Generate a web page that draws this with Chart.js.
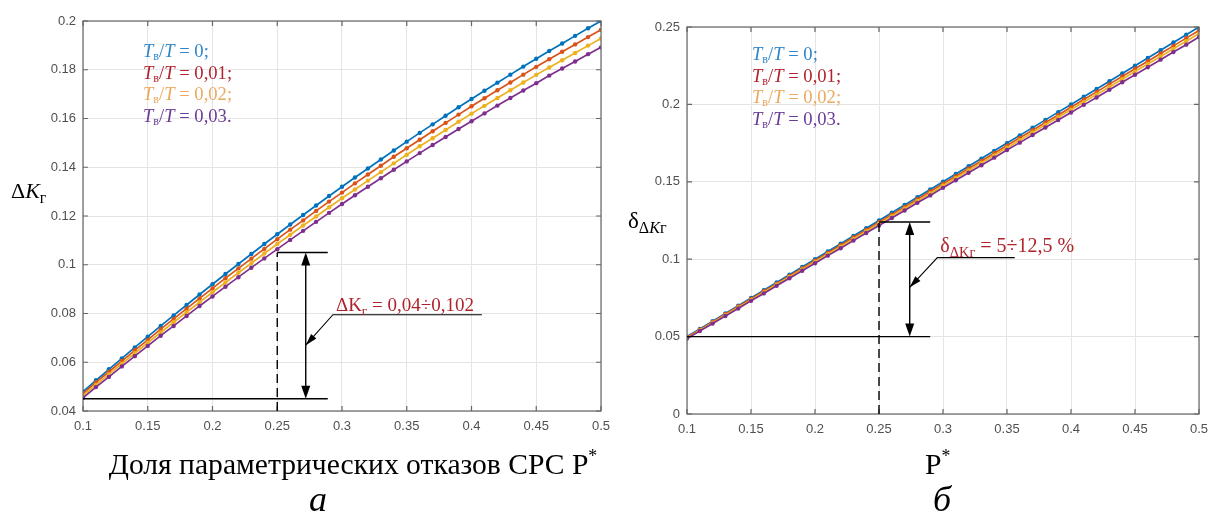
<!DOCTYPE html>
<html>
<head>
<meta charset="utf-8">
<script src="https://cdn.jsdelivr.net/npm/chart.js@4.4.0/dist/chart.umd.min.js"></script>
<style>
    html, body { margin: 0; padding: 0; background: #fff; }
    #wrap { position: relative; width: 1214px; height: 519px; }
    canvas { position: absolute; top: 0; }
</style>
</head>
<body>
<div id="wrap">
    <canvas id="chartA" width="630" height="519" style="left:0"></canvas>
    <canvas id="chartB" width="607" height="519" style="left:607px"></canvas>
</div>
<script>
// P* values (share of parametric failures)
const pValues = [0.10, 0.11, 0.12, 0.13, 0.14, 0.15, 0.16, 0.17, 0.18, 0.19,
    0.20, 0.21, 0.22, 0.23, 0.24, 0.25, 0.26, 0.27, 0.28, 0.29,
    0.30, 0.31, 0.32, 0.33, 0.34, 0.35, 0.36, 0.37, 0.38, 0.39,
    0.40, 0.41, 0.42, 0.43, 0.44, 0.45, 0.46, 0.47, 0.48, 0.49, 0.50];

const xTicks = [0.1, 0.15, 0.2, 0.25, 0.3, 0.35, 0.4, 0.45, 0.5];
const yTicksA = [0.04, 0.06, 0.08, 0.1, 0.12, 0.14, 0.16, 0.18, 0.2];
const yTicksB = [0, 0.05, 0.1, 0.15, 0.2, 0.25];
const ratioLabels = ['0;', '0,01;', '0,02;', '0,03.'];

// chart a: ΔKг for Tв/T = 0, 0.01, 0.02, 0.03
const dK0 = [0.0480, 0.0526, 0.0571, 0.0616, 0.0661, 0.0705, 0.0749, 0.0792, 0.0835, 0.0878,
    0.0920, 0.0962, 0.1003, 0.1044, 0.1085, 0.1125, 0.1165, 0.1204, 0.1243, 0.1282,
    0.1320, 0.1358, 0.1395, 0.1432, 0.1469, 0.1505, 0.1541, 0.1576, 0.1611, 0.1646,
    0.1680, 0.1714, 0.1747, 0.1780, 0.1813, 0.1845, 0.1877, 0.1908, 0.1939, 0.1970, 0.2000];
const dK1 = [0.0471, 0.0517, 0.0561, 0.0605, 0.0649, 0.0692, 0.0736, 0.0778, 0.0820, 0.0862,
    0.0903, 0.0945, 0.0985, 0.1025, 0.1065, 0.1105, 0.1144, 0.1182, 0.1221, 0.1259,
    0.1296, 0.1334, 0.1370, 0.1406, 0.1443, 0.1478, 0.1513, 0.1548, 0.1582, 0.1616,
    0.1650, 0.1683, 0.1716, 0.1748, 0.1780, 0.1812, 0.1843, 0.1874, 0.1904, 0.1934, 0.1964];
const dK2 = [0.0463, 0.0507, 0.0550, 0.0594, 0.0637, 0.0680, 0.0722, 0.0764, 0.0805, 0.0846,
    0.0887, 0.0927, 0.0967, 0.1006, 0.1046, 0.1085, 0.1123, 0.1161, 0.1198, 0.1236,
    0.1273, 0.1309, 0.1345, 0.1380, 0.1416, 0.1451, 0.1486, 0.1519, 0.1553, 0.1587,
    0.1620, 0.1652, 0.1684, 0.1716, 0.1748, 0.1779, 0.1809, 0.1839, 0.1869, 0.1899, 0.1928];
const dK3 = [0.0454, 0.0498, 0.0540, 0.0583, 0.0625, 0.0667, 0.0709, 0.0749, 0.0790, 0.0831,
    0.0870, 0.0910, 0.0949, 0.0988, 0.1026, 0.1064, 0.1102, 0.1139, 0.1176, 0.1213,
    0.1249, 0.1285, 0.1320, 0.1355, 0.1390, 0.1424, 0.1458, 0.1491, 0.1524, 0.1557,
    0.1589, 0.1621, 0.1653, 0.1684, 0.1715, 0.1745, 0.1776, 0.1805, 0.1834, 0.1864, 0.1892];

// chart б: δΔKг for the same ratios
const rel0 = [0.050, 0.055, 0.060, 0.065, 0.070, 0.075, 0.080, 0.085, 0.090, 0.095,
    0.100, 0.105, 0.110, 0.115, 0.120, 0.125, 0.130, 0.135, 0.140, 0.145,
    0.150, 0.155, 0.160, 0.165, 0.170, 0.175, 0.180, 0.185, 0.190, 0.195,
    0.200, 0.205, 0.210, 0.215, 0.220, 0.225, 0.230, 0.235, 0.240, 0.245, 0.250];
const rel1 = [0.0496, 0.0545, 0.0595, 0.0644, 0.0694, 0.0743, 0.0793, 0.0842, 0.0892, 0.0941,
    0.0991, 0.1041, 0.1090, 0.1140, 0.1189, 0.1239, 0.1288, 0.1338, 0.1387, 0.1437,
    0.1487, 0.1536, 0.1586, 0.1635, 0.1685, 0.1734, 0.1784, 0.1833, 0.1883, 0.1932,
    0.1982, 0.2032, 0.2081, 0.2131, 0.2180, 0.2230, 0.2279, 0.2329, 0.2378, 0.2428, 0.2478];
const rel2 = [0.0492, 0.0541, 0.0590, 0.0639, 0.0688, 0.0737, 0.0786, 0.0836, 0.0885, 0.0934,
    0.0983, 0.1032, 0.1081, 0.1130, 0.1180, 0.1229, 0.1278, 0.1327, 0.1376, 0.1425,
    0.1475, 0.1524, 0.1573, 0.1622, 0.1671, 0.1720, 0.1769, 0.1819, 0.1868, 0.1917,
    0.1966, 0.2015, 0.2064, 0.2113, 0.2163, 0.2212, 0.2261, 0.2310, 0.2359, 0.2408, 0.2458];
const rel3 = [0.0487, 0.0536, 0.0584, 0.0633, 0.0682, 0.0731, 0.0779, 0.0828, 0.0877, 0.0925,
    0.0974, 0.1023, 0.1071, 0.1120, 0.1169, 0.1218, 0.1266, 0.1315, 0.1364, 0.1412,
    0.1461, 0.1510, 0.1558, 0.1607, 0.1656, 0.1705, 0.1753, 0.1802, 0.1851, 0.1899,
    0.1948, 0.1997, 0.2045, 0.2094, 0.2143, 0.2192, 0.2240, 0.2289, 0.2338, 0.2386, 0.2435];

// guide marks: [P*, lower level, upper level, end of shelves, arrow P]
const guideA = [0.25, 0.045, 0.105, 0.289, 0.272];
const guideB = [0.25, 0.05, 0.124, 0.29, 0.274];
// leader line points [P, value]
const leaderA = [[0.272, 0.067], [0.293, 0.0795], [0.408, 0.0795]];
const leaderB = [[0.274, 0.0818], [0.2956, 0.101], [0.356, 0.101]];

const lineColors = ['#0072BD', '#D95319', '#EDB120', '#7E2F8E'];
const textColors = ['#2f86c8', '#b3232f', '#eba95f', '#6a3a97'];
const serif = '"Liberation Serif", "Times New Roman", serif';
const sans = '"Liberation Sans", Arial, sans-serif';

function toPoints(vals) {
    return pValues.map((p, i) => ({ x: p, y: vals[i] }));
}

function makeDatasets(list) {
    return list.map((vals, i) => ({
        data: toPoints(vals),
        borderColor: lineColors[i],
        backgroundColor: lineColors[i],
        borderWidth: 1.7,
        pointRadius: 2.2,
        pointHoverRadius: 2.2,
        pointBorderWidth: 0,
        tension: 0,
        order: 3 - i
    }));
}

function makeScales(yTicks, yMin, yMax, yWidth) {
    const tickFont = { family: sans, size: 13 };
    return {
        x: {
            type: 'linear', min: 0.1, max: 0.5,
            afterBuildTicks: s => { s.ticks = xTicks.map(v => ({ value: v })); },
            afterFit: s => { s.height = 40; s.paddingLeft = 0; s.paddingRight = 0; },
            ticks: { font: tickFont, color: '#505050', padding: 8, maxRotation: 0, autoSkip: false, callback: v => String(v) },
            grid: { color: '#e4e4e4', drawTicks: false },
            border: { display: false }
        },
        y: {
            type: 'linear', min: yMin, max: yMax,
            afterBuildTicks: s => { s.ticks = yTicks.map(v => ({ value: v })); },
            afterFit: s => { s.width = yWidth; s.paddingTop = 0; s.paddingBottom = 0; },
            ticks: { font: tickFont, color: '#505050', padding: 7, autoSkip: false, callback: v => String(+v.toFixed(3)) },
            grid: { color: '#e4e4e4', drawTicks: false },
            border: { display: false }
        }
    };
}

// draws a run of text pieces: [text, style, dy, scale]
function drawRich(ctx, x, y, parts, size, color, family) {
    let cx = x;
    ctx.fillStyle = color;
    ctx.textBaseline = 'alphabetic';
    ctx.textAlign = 'left';
    parts.forEach(([txt, style, dy, k]) => {
        ctx.font = style + ' ' + (size * k).toFixed(1) + 'px ' + family;
        ctx.fillText(txt, cx, y + dy);
        cx += ctx.measureText(txt).width;
    });
    return cx;
}

function richWidth(ctx, parts, size, family) {
    let w = 0;
    parts.forEach(([txt, style, dy, k]) => {
        ctx.font = style + ' ' + (size * k).toFixed(1) + 'px ' + family;
        w += ctx.measureText(txt).width;
    });
    return w;
}

function arrowHead(ctx, x1, y1, x2, y2, len, half) {
    const a = Math.atan2(y2 - y1, x2 - x1);
    const bx = x2 - len * Math.cos(a), by = y2 - len * Math.sin(a);
    ctx.beginPath();
    ctx.moveTo(x2, y2);
    ctx.lineTo(bx + half * Math.sin(a), by - half * Math.cos(a));
    ctx.lineTo(bx - half * Math.sin(a), by + half * Math.cos(a));
    ctx.closePath();
    ctx.fill();
}

function drawFrame(chart, yTicks) {
    const { ctx, chartArea: a, scales: { x, y } } = chart;
    ctx.save();
    ctx.strokeStyle = '#666';
    ctx.lineWidth = 1.2;
    ctx.strokeRect(a.left, a.top, a.right - a.left, a.bottom - a.top);
    ctx.beginPath();
    xTicks.forEach(v => {
        const px = x.getPixelForValue(v);
        ctx.moveTo(px, a.bottom); ctx.lineTo(px, a.bottom - 5);
        ctx.moveTo(px, a.top); ctx.lineTo(px, a.top + 5);
    });
    yTicks.forEach(v => {
        const py = y.getPixelForValue(v);
        ctx.moveTo(a.left, py); ctx.lineTo(a.left + 5, py);
        ctx.moveTo(a.right, py); ctx.lineTo(a.right - 5, py);
    });
    ctx.stroke();
    ctx.restore();
}

function drawLegend(chart, left, top) {
    const ctx = chart.ctx;
    ratioLabels.forEach((lab, i) => {
        drawRich(ctx, left, top + i * 21.5, [
            ['T', 'italic', 0, 1], ['в', 'normal', 3, 0.65], ['/', 'normal', 0, 1],
            ['T', 'italic', 0, 1], [' = ' + lab, 'normal', 0, 1]
        ], 18.6, textColors[i], serif);
    });
}

function drawGuide(chart, g, leader, labelParts, labelSize, labelLift) {
    const { ctx, scales: { x, y } } = chart;
    const px = x.getPixelForValue(g[0]);
    const lo = y.getPixelForValue(g[1]);
    const hi = y.getPixelForValue(g[2]);
    const end = x.getPixelForValue(g[3]);
    const ax = x.getPixelForValue(g[4]);
    ctx.save();
    ctx.strokeStyle = '#000';
    ctx.fillStyle = '#000';
    ctx.lineWidth = 1.4;
    // dashed drop line
    ctx.setLineDash([9, 5]);
    ctx.beginPath();
    ctx.moveTo(px, y.getPixelForValue(y.min));
    ctx.lineTo(px, hi);
    ctx.stroke();
    ctx.setLineDash([]);
    // shelves
    ctx.beginPath();
    ctx.moveTo(px, hi); ctx.lineTo(end, hi);
    ctx.moveTo(x.getPixelForValue(x.min), lo); ctx.lineTo(end, lo);
    ctx.stroke();
    // double arrow
    ctx.beginPath();
    ctx.moveTo(ax, hi + 10); ctx.lineTo(ax, lo - 10);
    ctx.stroke();
    arrowHead(ctx, ax, lo, ax, hi, 13, 4.5);
    arrowHead(ctx, ax, hi, ax, lo, 13, 4.5);
    // leader
    const pts = leader.map(([p, v]) => [x.getPixelForValue(p), y.getPixelForValue(v)]);
    ctx.lineWidth = 1.1;
    ctx.beginPath();
    ctx.moveTo(pts[0][0], pts[0][1]);
    pts.slice(1).forEach(([qx, qy]) => ctx.lineTo(qx, qy));
    ctx.stroke();
    arrowHead(ctx, pts[1][0], pts[1][1], pts[0][0], pts[0][1], 12, 3.5);
    drawRich(ctx, pts[1][0] + 3, pts[1][1] - labelLift, labelParts, labelSize, '#b0222c', serif);
    ctx.restore();
}

const decorA = {
    id: 'decorA',
    afterDraw(chart) {
        const ctx = chart.ctx;
        drawFrame(chart, yTicksA);
        drawLegend(chart, 143, 57);
        drawGuide(chart, guideA, leaderA,
            [['ΔK', 'normal', 0, 1], ['г', 'normal', 4, 0.7], [' = 0,04÷0,102', 'normal', 0, 1]], 19, 4);
        // axis names
        drawRich(ctx, 11, 198, [['Δ', 'normal', 0, 1], ['K', 'italic', 0, 1], ['г', 'normal', 5, 0.72]], 22, '#000', serif);
        const title = [['Доля параметрических отказов СРС P', 'normal', 0, 1], ['*', 'normal', -12, 0.6]];
        const w = richWidth(ctx, title, 29.6, serif);
        drawRich(ctx, 353 - w / 2, 474, title, 29.6, '#000', serif);
        const wa = richWidth(ctx, [['а', 'italic', 0, 1]], 36, serif);
        drawRich(ctx, 318 - wa / 2, 511, [['а', 'italic', 0, 1]], 36, '#000', serif);
    }
};

const decorB = {
    id: 'decorB',
    afterDraw(chart) {
        const ctx = chart.ctx;
        drawFrame(chart, yTicksB);
        drawLegend(chart, 145, 60);
        drawGuide(chart, guideB, leaderB,
            [['δ', 'normal', 0, 1], ['ΔKг', 'normal', 5, 0.72], [' = 5÷12,5 %', 'normal', 0, 1]], 20, 6);
        drawRich(ctx, 21, 228, [['δ', 'normal', 0, 1], ['Δ', 'normal', 5, 0.7], ['K', 'italic', 5, 0.7], ['г', 'normal', 5, 0.7]], 23, '#000', serif);
        drawRich(ctx, 318, 474, [['P', 'normal', 0, 1], ['*', 'normal', -12, 0.6]], 29.6, '#000', serif);
        const wb = richWidth(ctx, [['б', 'italic', 0, 1]], 36, serif);
        drawRich(ctx, 335 - wb / 2, 511, [['б', 'italic', 0, 1]], 36, '#000', serif);
    }
};

function baseOptions(scales, padding) {
    return {
        responsive: false,
        animation: false,
        layout: { padding: padding },
        plugins: { legend: { display: false }, tooltip: { enabled: false } },
        scales: scales
    };
}

new Chart(document.getElementById('chartA').getContext('2d'), {
    type: 'line',
    data: { datasets: makeDatasets([dK0, dK1, dK2, dK3]) },
    options: baseOptions(makeScales(yTicksA, 0.04, 0.2, 83), { left: 0, top: 21, right: 29, bottom: 68 }),
    plugins: [decorA]
});

new Chart(document.getElementById('chartB').getContext('2d'), {
    type: 'line',
    data: { datasets: makeDatasets([rel0, rel1, rel2, rel3]) },
    options: baseOptions(makeScales(yTicksB, 0, 0.25, 80), { left: 0, top: 27, right: 15, bottom: 65 }),
    plugins: [decorB]
});
</script>
</body>
</html>
